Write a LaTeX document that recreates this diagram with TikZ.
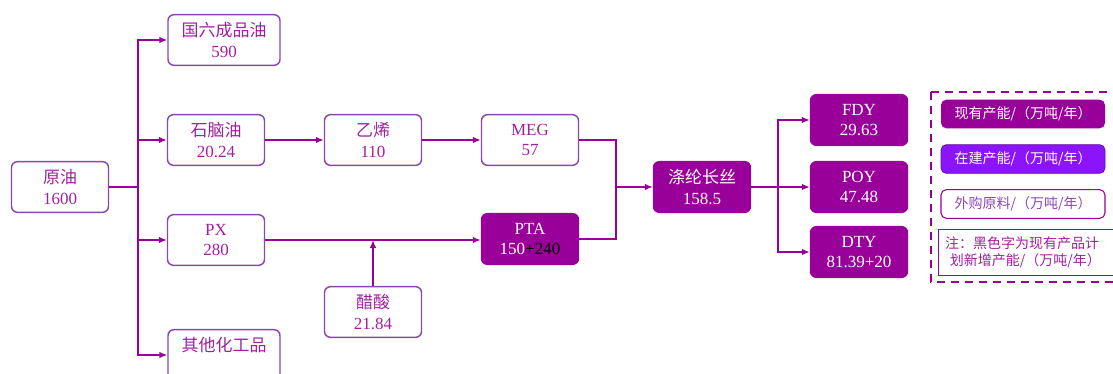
\documentclass[tikz,border=0pt]{standalone}
\usepackage{fontspec}
\setmainfont{Liberation Serif}
\newfontfamily\cjk{Noto Sans CJK SC}
\usetikzlibrary{arrows.meta}
\definecolor{plum}{RGB}{153,0,153}
\definecolor{violetfill}{RGB}{140,20,250}
\definecolor{edgecol}{RGB}{140,70,175}
\definecolor{txtcol}{RGB}{160,32,160}
\begin{document}
\begin{tikzpicture}[x=0.75pt,y=-0.75pt,
  line width=1.1pt,
  box/.style={draw=edgecol, rounded corners=4.5pt, minimum width=72.75pt, minimum height=38pt,
    align=center, text=txtcol, inner sep=1pt, font=\fontsize{12.75}{15.5}\selectfont},
  widebox/.style={box, minimum width=84pt},
  fillbox/.style={box, draw=plum, fill=plum, text=white},
  legbox/.style={rounded corners=4pt, minimum width=123pt, minimum height=21.5pt, inner sep=1pt,
    font=\cjk\fontsize{10.5}{13}\selectfont},
  arr/.style={draw=plum, -{Latex[length=6pt,width=5pt]}},
  conn/.style={draw=plum}]
\useasboundingbox (0,0) rectangle (1113,374);
% left column
\node[box] (crude) at (60,187) {{\cjk 原油}\\1600};
\node[widebox] (gasoline) at (224,40) {{\cjk 国六成品油}\\590};
\node[box] (naphtha) at (216,140) {{\cjk 石脑油}\\20.24};
\node[box] (px) at (216,240) {PX\\280};
\node[widebox] (chem) at (224,355) {{\cjk 其他化工品}\\\phantom{0}};
% middle
\node[box] (ethylene) at (373,140) {{\cjk 乙烯}\\110};
\node[box] (meg) at (530,140) {MEG\\57};
\node[fillbox] (pta) at (530,239) {PTA\\150{\color{black}+240}};
\node[box] (acid) at (373,312) {{\cjk 醋酸}\\21.84};
% right
\node[fillbox] (polyester) at (702,187) {{\cjk 涤纶长丝}\\158.5};
\node[fillbox] (fdy) at (859,120) {FDY\\29.63};
\node[fillbox] (poy) at (859,187) {POY\\47.48};
\node[fillbox] (dty) at (859,252) {DTY\\81.39+20};
% junctions
\coordinate (j1) at (138,187);
\coordinate (j2) at (373,240);
\coordinate (j3) at (616,187);
\coordinate (j4) at (778,187);
\draw[conn] (crude.east) -- (j1);
\draw[arr] (j1) |- (gasoline.west);
\draw[arr] (j1) |- (naphtha.west);
\draw[arr] (j1) |- (px.west);
\draw[arr] (j1) |- (chem.west);
\draw[arr] (naphtha.east) -- (ethylene.west);
\draw[arr] (ethylene.east) -- (meg.west);
\draw[arr] (px.east) -- (px.east -| pta.west);
\draw[arr] (acid.north) -- (j2);
\draw[conn] (meg.east) -| (j3);
\draw[conn] (pta.east) -| (j3);
\draw[arr] (j3) -- (polyester.west);
\draw[conn] (polyester.east) -- (j4);
\draw[arr] (j4) |- (fdy.west);
\draw[arr] (j4) -- (poy.west);
\draw[arr] (j4) |- (dty.west);
% legend
\draw[plum, line width=2pt, dash pattern=on 6pt off 4.5pt] (931,92) rectangle (1130,282);
\node[legbox, fill=plum, text=white] (leg1) at (1023,114) {现有产能/（万吨/年）};
\node[legbox, fill=violetfill, draw=violetfill!70!black, line width=0.6pt, text=white] (leg2) at (1023,159) {在建产能/（万吨/年）};
\node[legbox, draw=plum, line width=0.8pt, text=edgecol] (leg3) at (1023,204) {外购原料/（万吨/年）};
\node[draw=plum, line width=0.8pt, text=txtcol, anchor=north west, text width=140pt, minimum height=34.5pt,
  align=left, inner xsep=5pt, inner ysep=2pt, font=\cjk\fontsize{10.5}{13}\selectfont] (note) at (938,229)
  {注：黑色字为现有产品计\\\ 划新增产能/（万吨/年）};
\end{tikzpicture}
\end{document}
